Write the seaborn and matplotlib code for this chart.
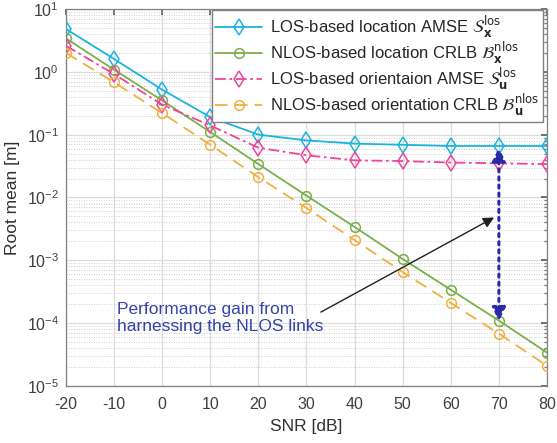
import numpy as np
import pandas as pd
import matplotlib
matplotlib.use("Agg")
import matplotlib.pyplot as plt
import seaborn as sns
from matplotlib.ticker import LogLocator, LogFormatterSciNotation

snr = [-20, -10, 0, 10, 20, 30, 40, 50, 60, 70, 80]
los_loc_amse = [4.8, 1.6, 0.52, 0.19, 0.10, 0.081, 0.072, 0.069, 0.066, 0.066, 0.066]
nlos_loc_crlb = [3.4, 1.08, 0.35, 0.11, 0.034, 0.0107, 0.0034, 0.00105, 0.00034, 0.00011, 3.4e-5]
los_ori_amse = [2.6, 0.92, 0.30, 0.14, 0.062, 0.047, 0.039, 0.038, 0.036, 0.035, 0.034]
nlos_ori_crlb = [2.0, 0.68, 0.22, 0.069, 0.021, 0.0068, 0.0021, 0.00065, 0.00021, 6.8e-5, 2.1e-5]

labels = [
    r'LOS-based location AMSE $\mathcal{S}_{\mathbf{x}}^{\mathrm{los}}$',
    r'NLOS-based location CRLB $\mathcal{B}_{\mathbf{x}}^{\mathrm{nlos}}$',
    r'LOS-based orientaion AMSE $\mathcal{S}_{\mathbf{u}}^{\mathrm{los}}$',
    r'NLOS-based orientation CRLB $\mathcal{B}_{\mathbf{u}}^{\mathrm{nlos}}$',
]
series = [los_loc_amse, nlos_loc_crlb, los_ori_amse, nlos_ori_crlb]
colors = ['#1ab4e0', '#7bb048', '#f0449a', '#f0b040']
markers = ['d', 'o', 'd', 'o']
styles = ['-', '-', (0, (6, 2, 1.5, 2)), (0, (7, 4))]

annot_text = "Performance gain from\nharnessing the NLOS links"

sns.set_theme(style="white")
plt.rcParams['font.family'] = ['Liberation Sans', 'DejaVu Sans']
plt.rcParams['mathtext.fontset'] = 'dejavusans'
plt.rcParams['axes.unicode_minus'] = False

fig = plt.figure(figsize=(5.57, 4.43), dpi=100)
ax = fig.add_axes([0.1185, 0.1287, 0.8635, 0.851])

for y, lab, c, m, ls in zip(series, labels, colors, markers, styles):
    df = pd.DataFrame({'snr': snr, 'val': y})
    sns.lineplot(data=df, x='snr', y='val', ax=ax, color=c, marker=m,
                 markersize=8 if m == 'd' else 7, markerfacecolor='none',
                 markeredgecolor=c, markeredgewidth=1.1, linewidth=1.3,
                 linestyle=ls, label=lab, zorder=3)

ax.set_yscale('log')
ax.set_xlim(-20, 80)
ax.set_ylim(1e-5, 1e1)
ax.set_xticks(np.arange(-20, 81, 10))
ax.yaxis.set_major_locator(LogLocator(base=10, numticks=10))
ax.yaxis.set_minor_locator(LogLocator(base=10, subs=np.arange(2, 10), numticks=100))
ax.yaxis.set_major_formatter(LogFormatterSciNotation())

ax.grid(which='major', axis='both', color='#dcdcdc', linewidth=0.9, linestyle='-')
ax.grid(which='minor', axis='y', color='#c0c0c0', linewidth=0.6, linestyle=(0, (1, 2)))
ax.set_axisbelow(True)

for s in ax.spines.values():
    s.set_color('#808080')
    s.set_linewidth(0.9)
ax.tick_params(which='major', direction='in', length=4, color='#606060',
               labelsize=11.5, labelcolor='#404040', top=True, right=True, pad=5)
ax.tick_params(axis='x', which='major', pad=8)
ax.tick_params(which='minor', direction='in', length=2, color='#808080', top=True, right=True)

ax.set_xlabel('SNR [dB]', fontsize=12.5, color='#303030', labelpad=5)
ax.set_ylabel('Root mean [m]', fontsize=12.5, color='#303030', labelpad=5)

leg = ax.legend(loc='upper right', fontsize=12, frameon=True, fancybox=False,
                edgecolor='#808080', framealpha=1, borderpad=0.2,
                handlelength=2.8, handletextpad=0.5, labelspacing=0.0,
                borderaxespad=0, bbox_to_anchor=(0.992, 0.997))
leg.get_frame().set_linewidth(1.0)
leg.set_zorder(10)
for t in leg.get_texts():
    t.set_color('#262626')

# black arrow
ax.annotate('', xy=(69, 4.8e-3), xytext=(33, 1.5e-4),
            arrowprops=dict(arrowstyle='-|>', color='#202020', lw=1.0,
                            mutation_scale=16, shrinkA=0, shrinkB=0), zorder=5)
# blue dotted double arrow
ax.annotate('', xy=(70, 0.062), xytext=(70, 1.08e-4),
            arrowprops=dict(arrowstyle='<|-|>', color='#2a2aa8', lw=2.2,
                            linestyle=':', mutation_scale=20, shrinkA=0, shrinkB=0),
            zorder=5)

ax.text(-9.3, 1.2e-4, annot_text, fontsize=12.5, color='#3344aa',
        va='center', ha='left', linespacing=1.2, zorder=6)

fig.savefig('out.png', dpi=100)
